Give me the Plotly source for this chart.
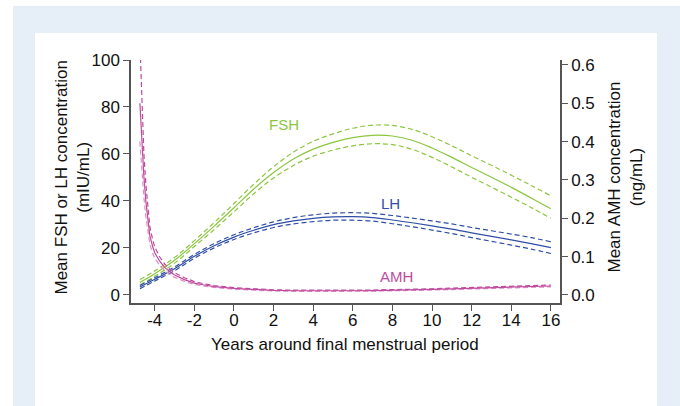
import plotly.graph_objects as go

# ---------------- data ----------------
gon_years = [-4.75, -4, -3, -2, -1, 0, 1, 2, 3, 4, 5, 6, 7, 8, 9, 10, 11, 12, 13, 14, 15, 16]

fsh_mean  = [5.2, 8.9, 14.6, 21.7, 29.2, 37.0, 45.0, 52.0, 57.8, 62.0, 64.9, 66.9, 67.9, 67.6, 65.8, 62.5, 58.5, 54.2, 50.0, 45.7, 41.2, 36.6]
fsh_upper = [6.4, 10.1, 15.8, 23.0, 30.7, 38.8, 47.1, 54.5, 60.7, 65.3, 68.5, 70.9, 72.2, 72.1, 70.4, 67.3, 63.4, 59.2, 55.1, 50.9, 46.5, 42.1]
fsh_lower = [4.2, 7.8, 13.4, 20.5, 27.7, 35.3, 43.0, 49.7, 55.0, 59.0, 61.6, 63.4, 64.3, 63.9, 61.9, 58.5, 54.4, 50.0, 45.8, 41.5, 37.1, 32.5]

lh_mean  = [3.2, 6.5, 11.0, 16.3, 20.8, 24.5, 27.4, 29.8, 31.4, 32.5, 33.1, 33.2, 32.8, 31.8, 30.6, 29.3, 27.9, 26.3, 24.8, 23.3, 21.7, 20.0]
lh_upper = [3.9, 7.2, 11.8, 17.1, 21.7, 25.5, 28.5, 31.0, 32.8, 34.0, 34.7, 34.9, 34.6, 33.7, 32.6, 31.4, 30.1, 28.6, 27.2, 25.8, 24.3, 22.5]
lh_lower = [2.5, 5.8, 10.2, 15.5, 19.9, 23.5, 26.3, 28.6, 30.1, 31.1, 31.7, 31.7, 31.3, 30.2, 28.9, 27.5, 26.0, 24.3, 22.7, 21.1, 19.4, 17.5]

amh_years = [-4.75, -4.65, -4.55, -4.45, -4.35, -4.25, -4.1, -4.0, -3.75, -3.5, -3.25, -3.0, -2.5, -2.0, -1.5, -1.0,
             0, 1, 2, 3, 4, 5, 6, 7, 8, 9, 10, 11, 12, 13, 14, 15, 16]
amh_mean  = [0.50, 0.40, 0.31, 0.245, 0.195, 0.155, 0.125, 0.11, 0.088, 0.072, 0.061, 0.052, 0.040, 0.031, 0.026, 0.022,
             0.017, 0.014, 0.012, 0.011, 0.0105, 0.0105, 0.011, 0.0115, 0.012, 0.013, 0.0145, 0.016, 0.0175, 0.019, 0.0205, 0.022, 0.0235]
amh_upper = [0.66, 0.49, 0.37, 0.29, 0.225, 0.178, 0.143, 0.125, 0.099, 0.081, 0.068, 0.058, 0.045, 0.035, 0.029, 0.0245,
             0.019, 0.0157, 0.0137, 0.0126, 0.012, 0.012, 0.0125, 0.013, 0.0136, 0.0147, 0.0162, 0.0178, 0.0194, 0.021, 0.0226, 0.0243, 0.026]
amh_lower = [0.40, 0.32, 0.255, 0.205, 0.165, 0.133, 0.108, 0.096, 0.077, 0.064, 0.054, 0.046, 0.0355, 0.0275, 0.023, 0.0195,
             0.015, 0.0124, 0.0105, 0.0096, 0.0092, 0.0092, 0.0097, 0.0101, 0.0105, 0.0114, 0.0128, 0.0142, 0.0156, 0.017, 0.0184, 0.0198, 0.0212]

x_ticks = [-4, -2, 0, 2, 4, 6, 8, 10, 12, 14, 16]
x_tick_labels = ["-4", "-2", "0", "2", "4", "6", "8", "10", "12", "14", "16"]
left_ticks = [0, 20, 40, 60, 80, 100]
right_ticks = [0.0, 0.1, 0.2, 0.3, 0.4, 0.5, 0.6]

# ---------------- style ----------------
GREEN = "#8cc63f"
BLUE = "#2f4ea5"
PINK = "#bf4b9e"
PINK_LIGHT = "#dc8fc8"
AXIS = "#555555"
TEXT = "#111111"
FONT = "Liberation Sans, Arial, sans-serif"

W, H = 680, 406
L, R, T, B = 131, 560, 60, 303  # plot area in pixels


def px(x):
    return (x - L) / (R - L)


def py(y):
    return (B - y) / (B - T)


fig = go.Figure()


def add_series(x, mean, up, lo, color, yaxis="y", color_lo=None, shape="spline"):
    color_lo = color_lo or color
    fig.add_trace(go.Scatter(x=x, y=up, mode="lines", yaxis=yaxis, showlegend=False,
                             line=dict(color=color, width=1.2, dash="5px,3px", shape=shape)))
    fig.add_trace(go.Scatter(x=x, y=lo, mode="lines", yaxis=yaxis, showlegend=False,
                             line=dict(color=color_lo, width=1.2, dash="5px,3px", shape=shape)))
    fig.add_trace(go.Scatter(x=x, y=mean, mode="lines", yaxis=yaxis, showlegend=False,
                             line=dict(color=color, width=1.2, shape=shape)))


add_series(gon_years, fsh_mean, fsh_upper, fsh_lower, GREEN)
add_series(gon_years, lh_mean, lh_upper, lh_lower, BLUE)
add_series(amh_years, amh_mean, amh_upper, amh_lower, PINK, yaxis="y2", color_lo=PINK_LIGHT, shape="linear")

axis_common = dict(showline=True, linecolor=AXIS, linewidth=1.5, ticks="outside", ticklen=6,
                   tickwidth=1.2, tickcolor=AXIS, showgrid=False, zeroline=False, automargin=False,
                   tickfont=dict(family=FONT, size=17, color=TEXT))

fig.update_layout(
    width=W, height=H,
    margin=dict(l=L, r=W - R, t=T, b=H - B, pad=0, autoexpand=False),
    paper_bgcolor="white",
    plot_bgcolor="rgba(0,0,0,0)",
    showlegend=False,
    xaxis=dict(range=[-5.2, 16.46], tickvals=x_ticks, ticktext=x_tick_labels, ticklabelstandoff=-5,
               **axis_common),
    yaxis=dict(range=[-3.6, 100], tickvals=left_ticks, **axis_common),
    yaxis2=dict(range=[-0.0209, 0.613], tickvals=right_ticks, tickformat=".1f",
                overlaying="y", side="right", **axis_common),
    shapes=[
        dict(type="rect", xref="paper", yref="paper", x0=px(13), x1=px(680), y0=py(420), y1=py(6),
             fillcolor="#e6eef8", line=dict(width=0), layer="below"),
        dict(type="rect", xref="paper", yref="paper", x0=px(35), x1=px(657), y0=py(420), y1=py(33),
             fillcolor="white", line=dict(width=0), layer="below"),
    ],
    annotations=[
        dict(text="FSH", x=2.5, y=72.3, xref="x", yref="y", showarrow=False,
             xanchor="center", yanchor="middle", font=dict(family=FONT, size=15, color=GREEN)),
        dict(text="LH", x=7.88, y=38.8, xref="x", yref="y", showarrow=False,
             xanchor="center", yanchor="middle", font=dict(family=FONT, size=15, color=BLUE)),
        dict(text="AMH", x=8.2, y=7.9, xref="x", yref="y", showarrow=False,
             xanchor="center", yanchor="middle", font=dict(family=FONT, size=15, color=PINK)),
        dict(text="Years around final menstrual period", x=px(345), y=py(345), xref="paper", yref="paper",
             xanchor="center", yanchor="middle", showarrow=False, font=dict(family=FONT, size=17, color=TEXT)),
        dict(text="Mean FSH or LH concentration<br>(mIU/mL)", x=px(72), y=py(177.5), xref="paper", yref="paper",
             xanchor="center", yanchor="middle", textangle=-90, showarrow=False,
             font=dict(family=FONT, size=17, color=TEXT)),
        dict(text="Mean AMH concentration<br>(ng/mL)", x=px(625), y=py(177.5), xref="paper", yref="paper",
             xanchor="center", yanchor="middle", textangle=-90, showarrow=False,
             font=dict(family=FONT, size=17, color=TEXT)),
    ],
)

fig.write_html("out.html", config={"displayModeBar": False},
               post_script="document.body.style.margin='0';document.body.style.overflow='hidden';")
